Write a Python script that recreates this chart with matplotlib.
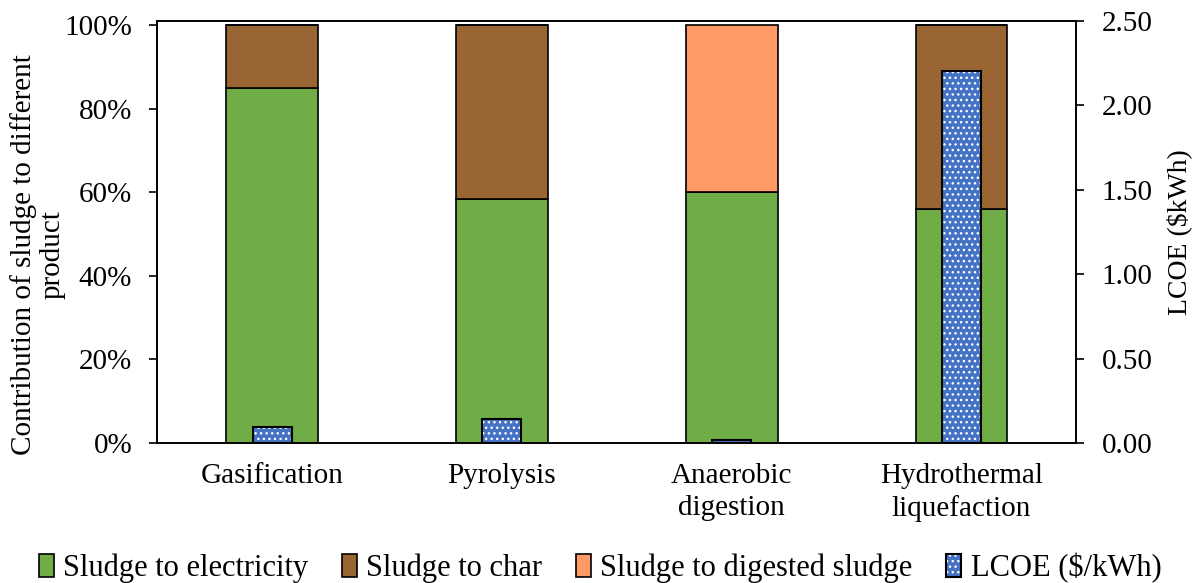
import matplotlib
matplotlib.use("Agg")
import matplotlib.pyplot as plt
from matplotlib.patches import Patch
from matplotlib.legend_handler import HandlerTuple
import numpy as np

plt.rcParams['font.family'] = ['Liberation Serif', 'DejaVu Serif']
plt.rcParams['hatch.linewidth'] = 1.0

# data
processes = ['Gasification', 'Pyrolysis', 'Anaerobic\ndigestion', 'Hydrothermal\nliquefaction']
to_electricity = [0.85, 0.584, 0.60, 0.56]
to_char = [0.15, 0.416, 0.0, 0.44]
to_digested = [0.0, 0.0, 0.40, 0.0]
lcoe = [0.095, 0.14, 0.018, 2.205]

green = '#70AD47'
brown = '#996633'
orange = '#FF9966'
blue = '#4472C4'

fig = plt.figure(figsize=(12, 5.83), dpi=100)
ax = fig.add_axes([0.131, 0.240, 0.766, 0.724])
x = np.arange(len(processes))
w = 0.4

ax.bar(x, to_electricity, w, color=green, edgecolor='black', linewidth=1.2, zorder=2)
ax.bar(x, to_char, w, bottom=to_electricity, color=brown, edgecolor='black', linewidth=1.2, zorder=2)
bottom2 = np.array(to_electricity) + np.array(to_char)
ax.bar(x, to_digested, w, bottom=bottom2, color=orange,
       edgecolor='black', linewidth=1.2, zorder=2)

ax.set_xlim(-0.5, 3.5)
ax.set_ylim(0, 1.0096)
ax.set_yticks(np.arange(0, 1.01, 0.2))
ax.set_yticklabels([f'{int(round(v*100))}%' for v in np.arange(0, 1.01, 0.2)])
ax.set_xticks(x)
ax.set_xticklabels(processes, linespacing=1.3)
ax.tick_params(axis='x', length=0, labelsize=21, pad=14)
ax.tick_params(axis='y', length=6, width=1.2, labelsize=21, direction='out', pad=12)
for s in ax.spines.values():
    s.set_linewidth(1.2)

# left axis title placed by hand so that it fits inside the figure
fig.text(38 / 1200, 1 - 255 / 583, 'Contribution of sludge to different\nproduct',
         rotation=90, ha='center', va='center', multialignment='center',
         fontsize=21, linespacing=1.1)

ax2 = ax.twinx()
lw = 0.17
ax2.bar(x, lcoe, lw, color=blue, edgecolor='white', hatch='...', linewidth=0, zorder=3)
ax2.bar(x, lcoe, lw, fill=False, edgecolor='black', linewidth=1.5, zorder=4)
ax2.set_ylim(0, 2.5)
ax2.set_yticks(np.arange(0, 2.51, 0.5))
ax2.set_yticklabels([f'{v:.2f}' for v in np.arange(0, 2.51, 0.5)])
ax2.tick_params(axis='y', length=6, width=1.2, labelsize=21, direction='out', pad=12)
ax2.set_ylabel('LCOE ($kWh)', fontsize=20, labelpad=10)
for s in ax2.spines.values():
    s.set_linewidth(1.2)

h1 = Patch(facecolor=green, edgecolor='black', linewidth=1.2)
h2 = Patch(facecolor=brown, edgecolor='black', linewidth=1.2)
h3 = Patch(facecolor=orange, edgecolor='black', linewidth=1.2)
h4a = Patch(facecolor=blue, edgecolor='white', hatch='...', linewidth=0)
h4b = Patch(fill=False, edgecolor='black', linewidth=1.5)
fig.legend([h1, h2, h3, (h4a, h4b)],
           ['Sludge to electricity', 'Sludge to char', 'Sludge to digested sludge', 'LCOE ($/kWh)'],
           handler_map={tuple: HandlerTuple(ndivide=1)},
           loc='center', bbox_to_anchor=(0.5, 0.026), ncol=4, frameon=False,
           fontsize=22, handlelength=0.5, handleheight=0.8, handletextpad=0.3,
           columnspacing=1.1, borderpad=0)

fig.savefig('out.png', dpi=100)
